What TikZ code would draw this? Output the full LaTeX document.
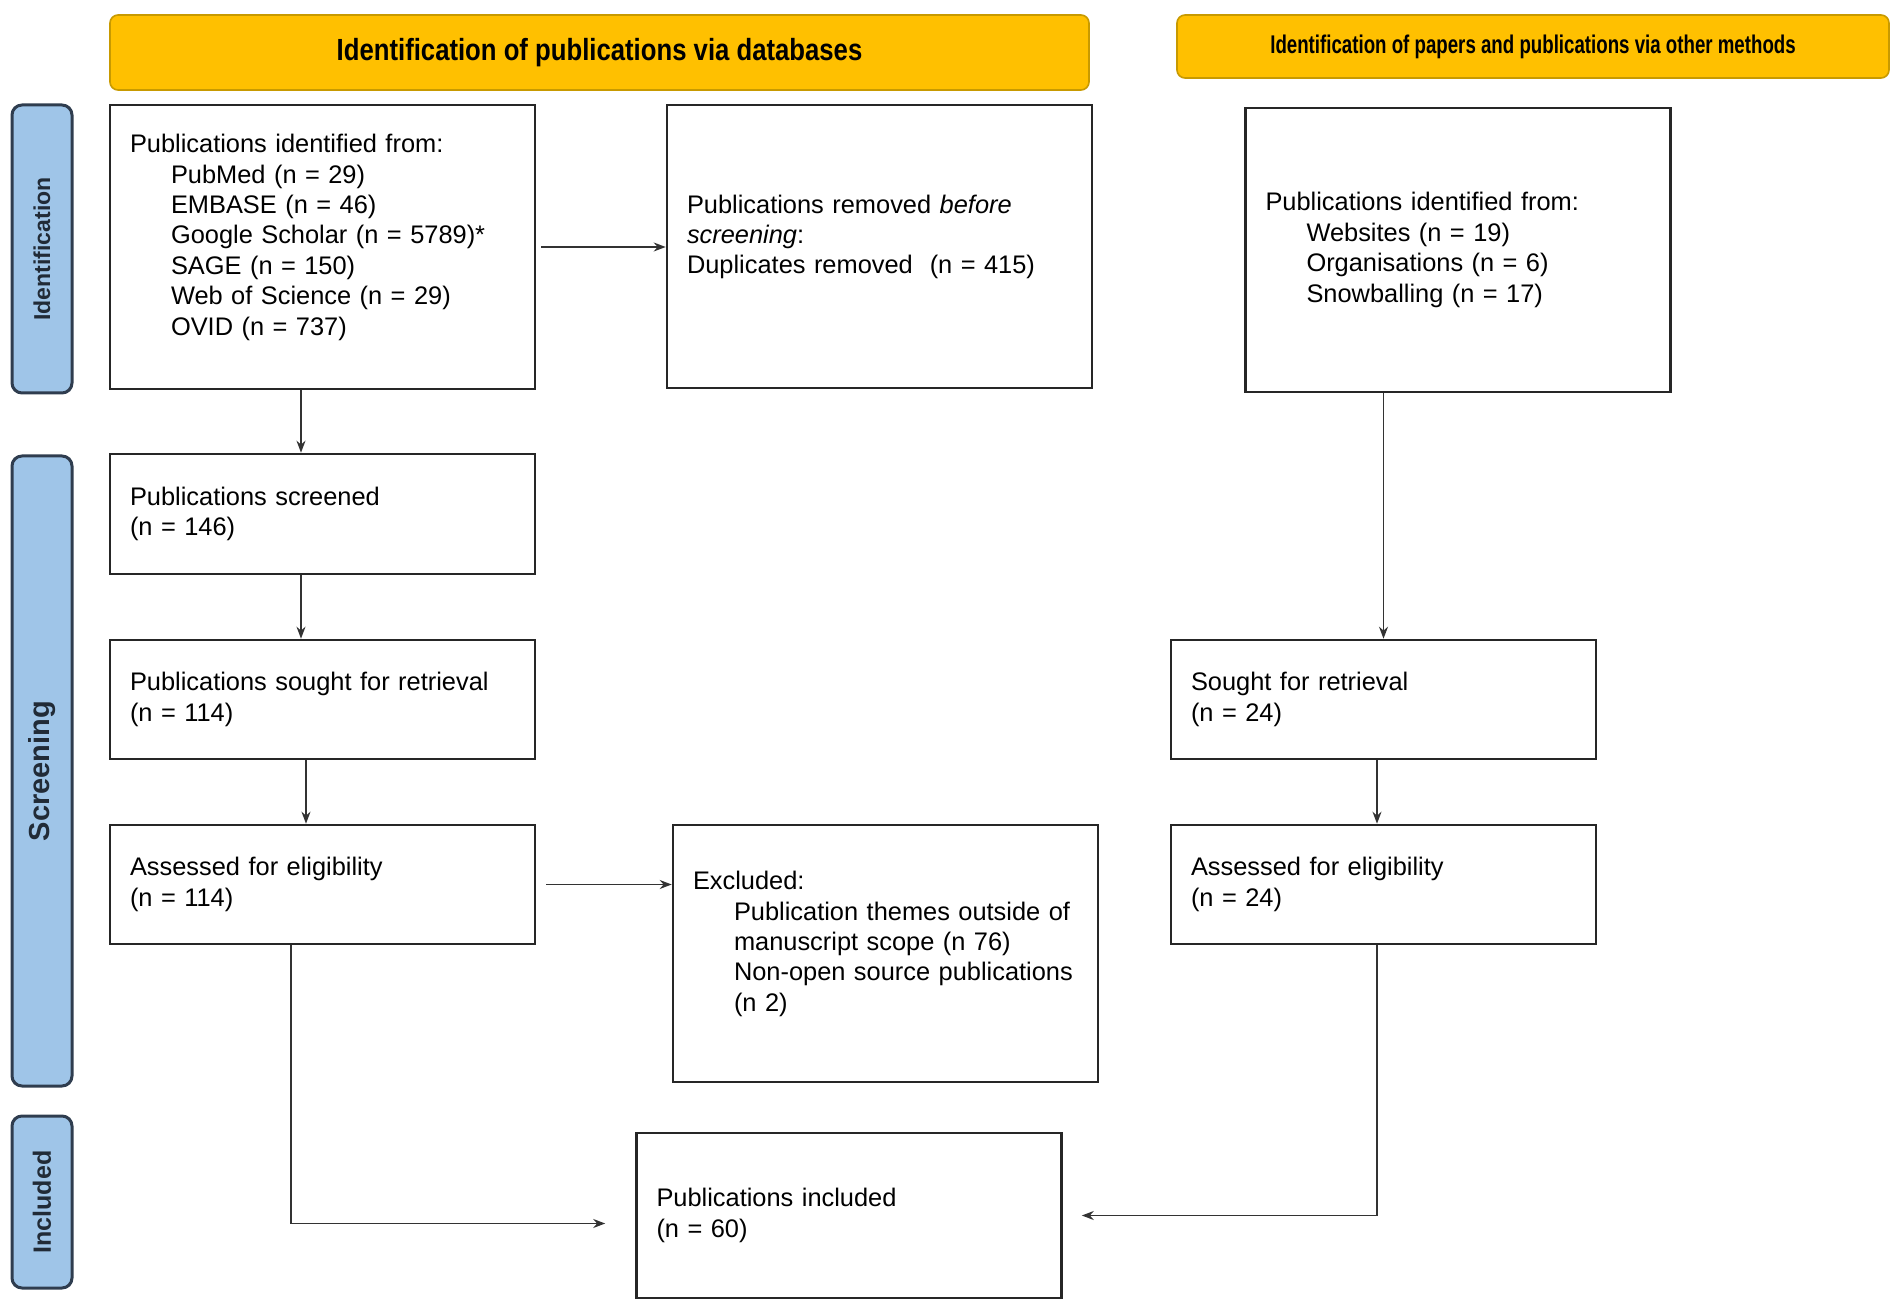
\documentclass[tikz,border=0pt]{standalone}
\usepackage{fontspec}
\usetikzlibrary{arrows.meta}
\setmainfont{Liberation Sans}
\newfontfamily\bannerfont[FakeStretch=0.84]{Liberation Sans}
\newfontfamily\bannerfontnarrow[FakeStretch=0.73]{Liberation Sans}
\definecolor{bannerfill}{HTML}{FFC000}
\definecolor{bannerline}{HTML}{C89A00}
\definecolor{phasefill}{HTML}{9FC5E8}
\definecolor{phaseline}{HTML}{2F3D4F}
\newcommand{\srcitem}[1]{\hspace*{20.5pt}\mbox{#1}}
\newcommand{\liftup}{\\[-3pt]\mbox{}}
\begin{document}
\begin{tikzpicture}[x=0.5pt, y=-0.5pt, >={Stealth[length=6pt,width=4.5pt]},
    stagebox/.style={draw=black!85, line width=1.3pt, rectangle, minimum width=212.5pt,
        inner xsep=10pt, text width=192.5pt, align=left, font=\fontsize{12.7}{15.2}\selectfont},
    lanehead/.style={draw=bannerline, fill=bannerfill, rounded corners=4pt, line width=0.8pt},
    phase/.style={draw=phaseline, fill=phasefill, rounded corners=5pt, line width=1.5pt,
        rotate=90, minimum height=30pt, text=phaseline!70!black},
    link/.style={->, draw=black!80, line width=0.8pt}]

    \useasboundingbox (0,0) rectangle (1902,1315);

    % headers
    \node [lanehead, minimum width=489.5pt, minimum height=37.5pt] (head-db) at (599.5,52.5)
        {\bannerfont\bfseries\fontsize{15.3}{18}\selectfont Identification of publications via databases};
    \node [lanehead, minimum width=356pt, minimum height=31.5pt] (head-other) at (1533,46.5)
        {\bannerfontnarrow\bfseries\fontsize{12.8}{15}\selectfont Identification of papers and publications via other methods};

    % phases
    \foreach \l/\y/\h/\s in {Identification/249/144/11.5, Screening/771/315/14.5, Included/1202/86/12.5}
    \node [phase, minimum width=\h pt, font=\bfseries\fontsize{\s}{\s}\selectfont] (phase-\l) at (42,\y) {\l};

    % database column
    \node [stagebox, minimum height=142pt] (ident) at (322.5,247)
        {Publications identified from:\\
        \srcitem{PubMed (n = 29)}\\
        \srcitem{EMBASE (n = 46)}\\
        \srcitem{Google Scholar (n = 5789)*}\\
        \srcitem{SAGE (n = 150)}\\
        \srcitem{Web of Science (n = 29)}\\
        \srcitem{OVID (n = 737)}\liftup};
    \node [stagebox, minimum height=141.5pt] (removed) at (879.5,246.5)
        {Publications removed \textit{before}\\ \textit{screening}:\\ Duplicates removed~~(n = 415)\liftup};
    \node [stagebox, minimum height=60pt] (screened) at (322.5,514)
        {Publications screened\\ (n = 146)};
    \node [stagebox, minimum height=59.5pt] (sought) at (322.5,699.5)
        {Publications sought for retrieval\\ (n = 114)};
    \node [stagebox, minimum height=59.5pt] (assessed) at (322.5,884.5)
        {Assessed for eligibility\\ (n = 114)};
    \node [stagebox, minimum height=128.5pt] (excluded) at (885.5,953.5)
        {Excluded:\\
        \srcitem{Publication themes outside of}\\
        \srcitem{manuscript scope (n 76)}\\
        \srcitem{Non-open source publications}\\
        \srcitem{(n 2)}\liftup};

    % other methods column
    \node [stagebox, minimum height=142pt] (other-ident) at (1458,250)
        {Publications identified from:\\
        \srcitem{Websites (n = 19)}\\
        \srcitem{Organisations (n = 6)}\\
        \srcitem{Snowballing (n = 17)}};
    \node [stagebox, minimum height=59.5pt] (other-sought) at (1383.5,699.5)
        {Sought for retrieval\\ (n = 24)};
    \node [stagebox, minimum height=59.5pt] (other-assessed) at (1383.5,884.5)
        {Assessed for eligibility\\ (n = 24)};

    % included
    \node [stagebox, minimum height=82.5pt] (included) at (849,1215.5)
        {Publications included\\ (n = 60)};

    % connectors
    \coordinate (col-a) at (301,0);
    \coordinate (col-b) at (306,0);
    \coordinate (col-c) at (291,0);
    \coordinate (col-d) at (1377,0);

    \draw [link, shorten <=2.5pt] (ident.east) -- (removed.west |- ident.east);
    \draw [link] (ident.south -| col-a) -- (screened.north -| col-a);
    \draw [link] (screened.south -| col-a) -- (sought.north -| col-a);
    \draw [link] (sought.south -| col-b) -- (assessed.north -| col-b);
    \draw [link, shorten <=5pt] (assessed.east) -- (excluded.west |- assessed.east);
    \draw [link, shorten >=15pt] (assessed.south -| col-c) |- ([yshift=-4pt]included.west);

    \draw [link] (other-ident.south -| other-sought.north) -- (other-sought.north);
    \draw [link] (other-sought.south -| col-d) -- (other-assessed.north -| col-d);
    \draw [link, shorten >=9.5pt] (other-assessed.south -| col-d) |- (included.east);
\end{tikzpicture}
\end{document}
